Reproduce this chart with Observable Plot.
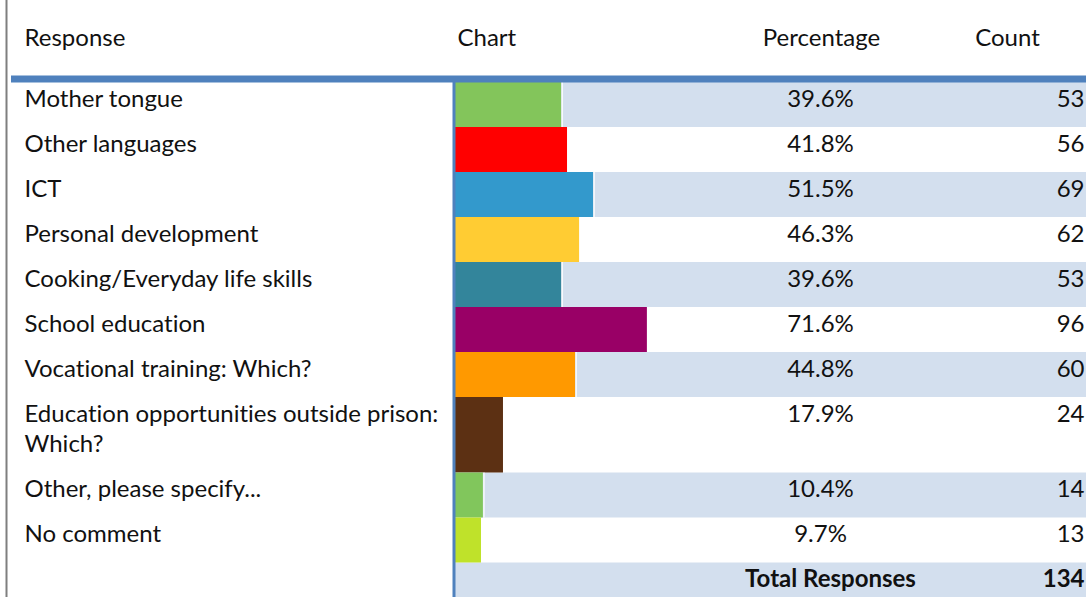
<!DOCTYPE html>
<html>
<head>
<meta charset="utf-8">
<script src="https://cdn.jsdelivr.net/npm/d3@7"></script>
<script src="https://cdn.jsdelivr.net/npm/@observablehq/plot@0.6"></script>
<style>
  html, body { margin: 0; padding: 0; background: #fff; }
  svg { display: block; font-variant-ligatures: none; }
</style>
</head>
<body>
<div id="chart"></div>
<script>
// ---- Data ----
const responses = [
  "Mother tongue",
  "Other languages",
  "ICT",
  "Personal development",
  "Cooking/Everyday life skills",
  "School education",
  "Vocational training: Which?",
  "Education opportunities outside prison:\nWhich?",
  "Other, please specify...",
  "No comment"
];
const percentages = [39.6, 41.8, 51.5, 46.3, 39.6, 71.6, 44.8, 17.9, 10.4, 9.7];
const counts = [53, 56, 69, 62, 53, 96, 60, 24, 14, 13];
const barColors = ["#83c55b", "#ff0000", "#3399cc", "#ffcc33", "#33859b", "#990066", "#ff9900", "#5c3013", "#81c65c", "#bfe22a"];
const headers = ["Response", "Chart", "Percentage", "Count"];
const totalLabel = "Total Responses";
const totalResponses = 134;

// ---- Layout ----
const W = 1086, H = 597;
const FONT = 24;
const BAR0 = 455;           // pixel where 0% sits
const K = 2.68;             // pixels per percentage point
const xOf = px => (px - BAR0) / K;
const ROW_TOP = 82, LINE = 30.5, PAD = 14.5;
const BASE = 24;            // baseline offset from row top
const LH = LINE / FONT;

let cursor = ROW_TOP;
const rows = responses.map((label, i) => {
  const lines = label.split("\n").length;
  const h = PAD + LINE * lines;
  const r = {label, pct: percentages[i], count: counts[i], color: barColors[i],
             y0: cursor, y1: cursor + h, shaded: i % 2 === 0};
  cursor += h;
  return r;
});
const totalRow = {y0: cursor, y1: cursor + PAD + LINE, shaded: true};
const textY = d => d.y0 + BASE - 0.71 * LINE;
const headerY = 45 - 0.71 * LINE;

const font = {fontFamily: "Lato, 'Open Sans', sans-serif", fontSize: FONT, fill: "#111", lineAnchor: "top", lineHeight: LH};

const shaded = rows.filter(d => d.shaded).concat([totalRow]);

const chart = Plot.plot({
  width: W,
  height: H,
  margin: 0,
  x: {type: "linear", domain: [xOf(0), xOf(W)], range: [0, W], axis: null},
  y: {type: "identity", axis: null},
  color: {type: "identity"},
  style: {background: "#fff", overflow: "visible"},
  marks: [
    Plot.rect(shaded, {x1: 0, x2: xOf(W), y1: "y0", y2: "y1", fill: "#d3dfee"}),
    Plot.rect(rows, {x1: 0, x2: "pct", y1: "y0", y2: "y1", fill: "color"}),
    Plot.ruleX(rows.filter(d => d.shaded), {x: d => d.pct + 0.6 / K, y1: "y0", y2: "y1", stroke: "#fff", strokeWidth: 1.2}),
    Plot.ruleX([xOf(6)], {y1: 0, y2: H, stroke: "#7f7f7f", strokeWidth: 2}),
    Plot.ruleY([78.5], {stroke: "#4f81bd", strokeWidth: 7, insetLeft: 11}),
    Plot.ruleX([xOf(453.5)], {y1: ROW_TOP, y2: H, stroke: "#4f81bd", strokeWidth: 3}),
    Plot.text([headers[0]], {text: d => d, frameAnchor: "left", dx: 24, y: () => headerY, textAnchor: "start", ...font}),
    Plot.text([headers[1]], {text: d => d, frameAnchor: "left", dx: 457, y: () => headerY, textAnchor: "start", ...font}),
    Plot.text([headers[2]], {text: d => d, frameAnchor: "left", dx: 821, y: () => headerY, textAnchor: "middle", ...font}),
    Plot.text([headers[3]], {text: d => d, frameAnchor: "left", dx: 1007, y: () => headerY, textAnchor: "middle", ...font}),
    Plot.text(rows, {text: "label", frameAnchor: "left", dx: 24, y: textY, textAnchor: "start", ...font}),
    Plot.text(rows, {text: d => d.pct.toFixed(1) + "%", frameAnchor: "left", dx: 820, y: textY, textAnchor: "middle", ...font}),
    Plot.text(rows, {text: d => String(d.count), frameAnchor: "right", dx: -2, y: textY, textAnchor: "end", ...font}),
    Plot.text([totalRow], {text: () => totalLabel, frameAnchor: "left", dx: 830, y: textY, textAnchor: "middle", ...font, fontWeight: "bold"}),
    Plot.text([totalRow], {text: () => String(totalResponses), frameAnchor: "right", dx: -2, y: textY, textAnchor: "end", ...font, fontWeight: "bold"})
  ]
});
document.getElementById("chart").appendChild(chart);
</script>
</body>
</html>
